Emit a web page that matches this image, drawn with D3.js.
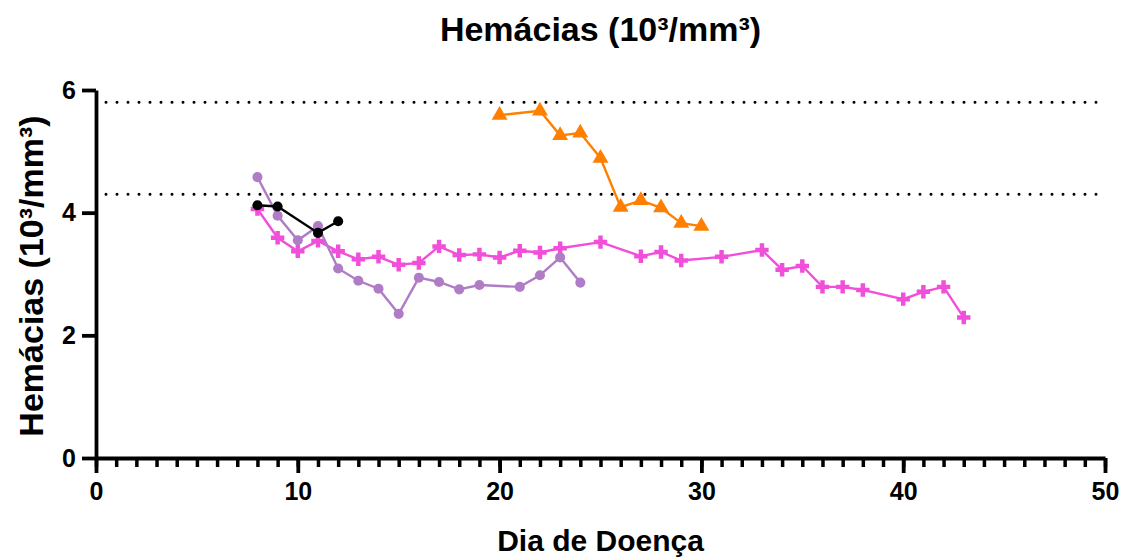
<!DOCTYPE html>
<html>
<head>
<meta charset="utf-8">
<script src="https://cdn.jsdelivr.net/npm/d3@7"></script>
<style>
  body { margin: 0; background: #fff; }
  text { font-family: "Liberation Sans", Arial, sans-serif; font-weight: bold; }
</style>
</head>
<body>
<div id="chart"></div>
<script>
// values (day of illness -> red cells 10^3/mm^3)
var blackDays = [8, 9, 11, 12];
var blackVals = [4.12, 4.10, 3.67, 3.86];

var purpleDays = [8, 9, 10, 11, 12, 13, 14, 15, 16, 17, 18, 19, 21, 22, 23, 24];
var purpleVals = [4.58, 3.95, 3.55, 3.78, 3.09, 2.89, 2.76, 2.35, 2.94, 2.87, 2.75, 2.82, 2.79, 2.98, 3.27, 2.86];

var pinkDays = [8, 9, 10, 11, 12, 13, 14, 15, 16, 17, 18, 19, 20, 21, 22, 23, 25, 27, 28, 29, 31, 33, 34, 35, 36, 37, 38, 40, 41, 42, 43];
var pinkVals = [4.06, 3.59, 3.37, 3.54, 3.37, 3.24, 3.28, 3.15, 3.18, 3.45, 3.31, 3.32, 3.27, 3.38, 3.35, 3.42, 3.52, 3.29, 3.36, 3.22, 3.28, 3.39, 3.07, 3.13, 2.79, 2.79, 2.74, 2.59, 2.71, 2.79, 2.29];

var orangeDays = [20, 22, 23, 24, 25, 26, 27, 28, 29, 30];
var orangeVals = [5.59, 5.66, 5.26, 5.30, 4.89, 4.09, 4.20, 4.08, 3.83, 3.78];

var refLines = [5.8, 4.3];
var xTicks = [0, 10, 20, 30, 40, 50];
var yTicks = [0, 2, 4, 6];

var W = 1123, H = 560;
var margin = {top: 90, right: 18, bottom: 102, left: 96},
    width = W - margin.left - margin.right,
    height = H - margin.top - margin.bottom;

var svg = d3.select("#chart").append("svg")
    .attr("width", W)
    .attr("height", H);

var g = svg.append("g")
    .attr("transform", "translate(" + margin.left + "," + margin.top + ")");

var x = d3.scaleLinear().domain([0, 50]).range([0, width]);
var y = d3.scaleLinear().domain([0, 6]).range([height, 0]);

// dotted normal range lines
g.selectAll(".ref")
  .data(refLines)
  .enter().append("line")
    .attr("x1", 10)
    .attr("x2", width)
    .attr("y1", function(d) { return y(d); })
    .attr("y2", function(d) { return y(d); })
    .attr("stroke", "#000")
    .attr("stroke-width", 3)
    .attr("stroke-linecap", "round")
    .attr("stroke-dasharray", "0,11");

// axes
var xMinor = g.append("g")
    .attr("transform", "translate(0," + height + ")")
    .call(d3.axisBottom(x).tickValues(d3.range(0, 51)).tickSize(9).tickFormat(""));
xMinor.select(".domain").remove();
xMinor.selectAll("line").attr("stroke-width", 3.5);

var xAxis = g.append("g")
    .attr("transform", "translate(0," + height + ")")
    .call(d3.axisBottom(x).tickValues(xTicks).tickSize(15).tickSizeOuter(0).tickPadding(9).tickFormat(d3.format("d")));
xAxis.select(".domain").attr("stroke-width", 3.8);
xAxis.selectAll("line").attr("stroke-width", 3.8);
xAxis.selectAll("text").style("font-size", "25px").attr("fill", "#000");

var yAxis = g.append("g")
    .call(d3.axisLeft(y).tickValues(yTicks).tickSize(14).tickSizeOuter(0).tickPadding(6).tickFormat(d3.format("d")));
yAxis.select(".domain").attr("stroke-width", 3.8);
yAxis.selectAll("line").attr("stroke-width", 3.8);
yAxis.selectAll("text").style("font-size", "25px").attr("fill", "#000");

// series
var series = [
  {days: pinkDays, vals: pinkVals, color: "#f14fd9", symbol: d3.symbolCross, size: 100},
  {days: purpleDays, vals: purpleVals, color: "#b07cc6", symbol: d3.symbolCircle, size: 80},
  {days: blackDays, vals: blackVals, color: "#000000", symbol: d3.symbolCircle, size: 80},
  {days: orangeDays, vals: orangeVals, color: "#ff8000", symbol: d3.symbolTriangle, size: 110}
];

var line = d3.line()
    .x(function(d) { return x(d[0]); })
    .y(function(d) { return y(d[1]); });

series.forEach(function(s) {
  var pts = s.days.map(function(d, i) { return [d, s.vals[i]]; });
  g.append("path")
    .datum(pts)
    .attr("fill", "none")
    .attr("stroke", s.color)
    .attr("stroke-width", 2.4)
    .attr("d", line);
  g.append("g").selectAll("path")
    .data(pts)
    .enter().append("path")
      .attr("transform", function(d) { return "translate(" + x(d[0]) + "," + y(d[1]) + ")"; })
      .attr("d", d3.symbol().type(s.symbol).size(s.size))
      .attr("fill", s.color);
});

// titles
svg.append("text")
    .attr("x", margin.left + width / 2)
    .attr("y", 41)
    .attr("text-anchor", "middle")
    .style("font-size", "34px")
    .text("Hemácias (10³/mm³)");

svg.append("text")
    .attr("transform", "translate(43," + 276 + ") rotate(-90)")
    .attr("text-anchor", "middle")
    .style("font-size", "34px")
    .text("Hemácias (10³/mm³)");

svg.append("text")
    .attr("x", margin.left + width / 2)
    .attr("y", 551)
    .attr("text-anchor", "middle")
    .style("font-size", "30px")
    .text("Dia de Doença");
</script>
</body>
</html>
